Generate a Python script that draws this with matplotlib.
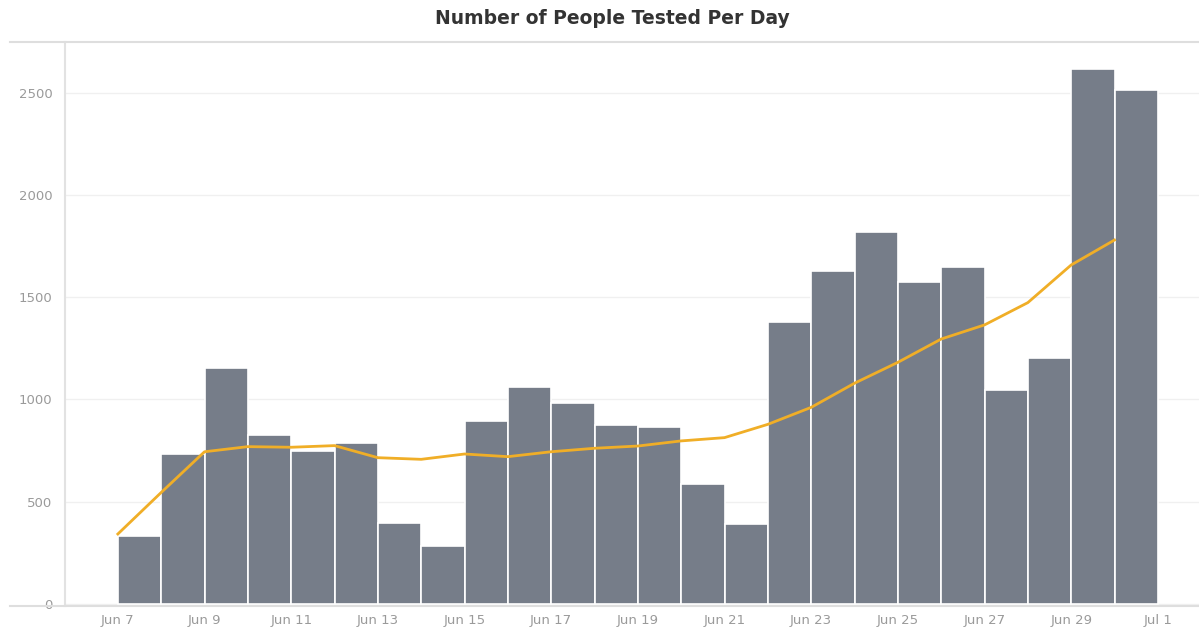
import numpy as np
import matplotlib
matplotlib.use("Agg")
import matplotlib.pyplot as plt
from matplotlib.lines import Line2D

# daily values, Jun 7 .. Jun 30
day_labels = ["Jun 7", "Jun 8", "Jun 9", "Jun 10", "Jun 11", "Jun 12", "Jun 13", "Jun 14",
              "Jun 15", "Jun 16", "Jun 17", "Jun 18", "Jun 19", "Jun 20", "Jun 21", "Jun 22",
              "Jun 23", "Jun 24", "Jun 25", "Jun 26", "Jun 27", "Jun 28", "Jun 29", "Jun 30"]
tested = [334, 732, 1155, 826, 749, 785, 397, 282, 893, 1062, 981, 873, 863, 585,
          389, 1377, 1629, 1817, 1572, 1649, 1046, 1202, 2613, 2514]
rolling_avg = [342, 545, 744, 769, 766, 774, 715, 707, 733, 720, 744, 761, 772, 797,
               813, 878, 961, 1079, 1181, 1295, 1364, 1473, 1657, 1779]
tick_labels = ["Jun 7", "Jun 9", "Jun 11", "Jun 13", "Jun 15", "Jun 17", "Jun 19",
               "Jun 21", "Jun 23", "Jun 25", "Jun 27", "Jun 29", "Jul 1"]

x = np.arange(len(day_labels))

fig = plt.figure(figsize=(11.99, 6.32), dpi=100)
ax = fig.add_axes([65 / 1199, 26 / 632, 1 - 65 / 1199, (606 - 42) / 632])

ax.bar(x, tested, width=1.0, align="edge", color="#767d89",
       edgecolor="white", linewidth=1.2, zorder=2)
ax.plot(x, rolling_avg, color="#f0ae27", lw=2.0, zorder=3, solid_joinstyle="round")

ax.set_xlim(-1.22, 24.95)
ax.set_ylim(-10, 2747)
ax.set_yticks([0, 500, 1000, 1500, 2000, 2500])
ax.set_xticks(np.arange(0, 25, 2))
ax.set_xticklabels(tick_labels)
ax.tick_params(axis="both", length=0, labelsize=9.5, labelcolor="#9a9a9a")
ax.tick_params(axis="x", pad=6)
ax.tick_params(axis="y", pad=9)
ax.grid(axis="y", color="#f0f0f0", lw=1.0, zorder=0)

for s in ["top", "right", "bottom"]:
    ax.spines[s].set_visible(False)
ax.spines["left"].set_color("#e2e2e2")
ax.spines["left"].set_linewidth(1.5)

# full-width horizontal rules (header and baseline)
fig.add_artist(Line2D([10 / 1199, 1], [1 - 42 / 632] * 2, color="#dedede", lw=1.5))
fig.add_artist(Line2D([10 / 1199, 1], [1 - 606 / 632] * 2, color="#dedede", lw=1.5))

fig.text(612 / 1199, 1 - 19 / 632, "Number of People Tested Per Day",
         ha="center", va="center", fontsize=13.5, fontweight="bold", color="#333333")

fig.savefig("out.png", dpi=100)
